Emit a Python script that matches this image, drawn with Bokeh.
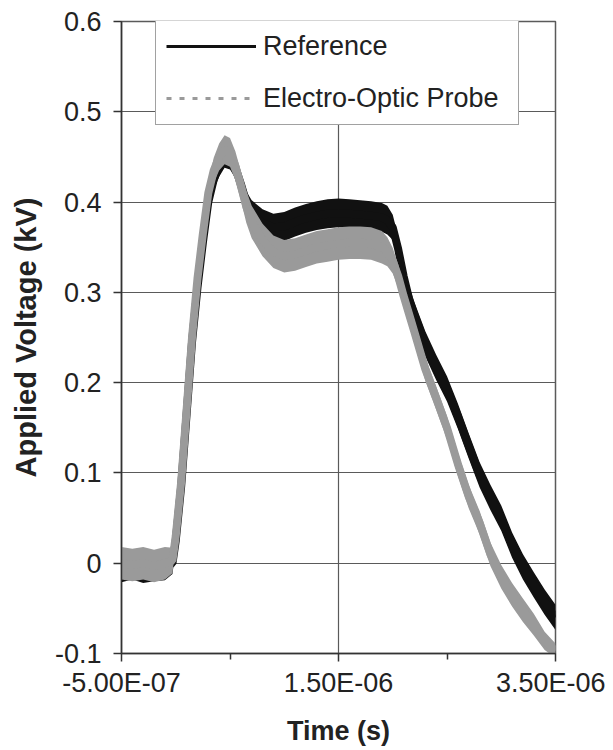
from bokeh.plotting import figure
from bokeh.models import Range1d, FixedTicker, Legend, LegendItem
from bokeh.embed import file_html
from bokeh.resources import INLINE

# ---- data ----
time_s = [-5.0e-7, -4.0e-7, -3.0e-7, -2.0e-7, -1.0e-7, -3.0e-8, 0.0, 5.0e-8, 1.0e-7, 1.5e-7,
          2.0e-7, 2.5e-7, 3.0e-7, 3.5e-7, 4.0e-7, 4.5e-7, 5.0e-7, 5.5e-7, 6.0e-7, 6.5e-7,
          7.0e-7, 8.0e-7, 9.0e-7, 1.0e-6, 1.1e-6, 1.2e-6, 1.3e-6, 1.4e-6, 1.5e-6, 1.6e-6,
          1.7e-6, 1.8e-6, 1.9e-6, 1.95e-6, 2.0e-6, 2.05e-6, 2.1e-6, 2.15e-6, 2.2e-6, 2.3e-6,
          2.4e-6, 2.5e-6, 2.6e-6, 2.7e-6, 2.8e-6, 2.9e-6, 3.0e-6, 3.1e-6, 3.2e-6, 3.3e-6,
          3.4e-6, 3.5e-6]

reference_kv = [-0.005, -0.002, -0.006, -0.004, -0.003, 0.000, 0.025, 0.085, 0.165, 0.245,
                0.305, 0.355, 0.400, 0.425, 0.440, 0.450, 0.448, 0.438, 0.420, 0.400,
                0.388, 0.377, 0.372, 0.373, 0.378, 0.382, 0.385, 0.387, 0.388, 0.387,
                0.386, 0.385, 0.383, 0.380, 0.372, 0.348, 0.318, 0.293, 0.275, 0.243,
                0.217, 0.193, 0.163, 0.130, 0.098, 0.073, 0.050, 0.020, -0.004, -0.024,
                -0.043, -0.060]

probe_kv = [0.000, -0.002, 0.000, -0.003, 0.000, 0.003, 0.030, 0.090, 0.170, 0.250,
            0.315, 0.365, 0.410, 0.435, 0.450, 0.458, 0.455, 0.440, 0.418, 0.395,
            0.378, 0.358, 0.345, 0.340, 0.342, 0.346, 0.350, 0.352, 0.354, 0.355,
            0.355, 0.354, 0.350, 0.345, 0.335, 0.318, 0.296, 0.276, 0.256, 0.215,
            0.183, 0.150, 0.110, 0.074, 0.045, 0.010, -0.015, -0.035, -0.052, -0.068,
            -0.086, -0.097]

# half-width of the noise band around each trace (kV)
reference_noise = [0.016, 0.016, 0.016, 0.016, 0.016, 0.012, 0.008, 0.008, 0.008, 0.008,
                   0.008, 0.010, 0.010, 0.012, 0.012, 0.012, 0.012, 0.012, 0.012, 0.012,
                   0.014, 0.015, 0.015, 0.016, 0.016, 0.016, 0.016, 0.016, 0.016, 0.016,
                   0.016, 0.016, 0.016, 0.016, 0.014, 0.014, 0.014, 0.014, 0.014, 0.014,
                   0.014, 0.014, 0.014, 0.014, 0.014, 0.014, 0.014, 0.014, 0.014, 0.014,
                   0.014, 0.014]

probe_noise = [0.018, 0.018, 0.018, 0.018, 0.018, 0.014, 0.008, 0.008, 0.008, 0.008,
               0.008, 0.010, 0.012, 0.014, 0.015, 0.016, 0.016, 0.016, 0.016, 0.018,
               0.018, 0.018, 0.018, 0.018, 0.018, 0.018, 0.018, 0.018, 0.018, 0.018,
               0.018, 0.018, 0.018, 0.016, 0.014, 0.013, 0.013, 0.013, 0.013, 0.013,
               0.013, 0.013, 0.013, 0.013, 0.013, 0.013, 0.013, 0.013, 0.013, 0.012,
               0.010, 0.008]

x_tick_values = [-5.0e-7, 1.5e-6, 3.5e-6]
x_tick_labels = ["-5.00E-07", "1.50E-06", "3.50E-06"]
x_minor_ticks = [5.0e-7, 2.5e-6]
y_tick_values = [-0.1, 0.0, 0.1, 0.2, 0.3, 0.4, 0.5, 0.6]
y_tick_labels = ["-0.1", "0", "0.1", "0.2", "0.3", "0.4", "0.5", "0.6"]

series_names = ["Reference", "Electro-Optic Probe"]
x_title = "Time (s)"
y_title = "Applied Voltage (kV)"

# ---- style ----
FONT = "Liberation Sans"
BLACK = "#111111"
GRAY = "#9a9a9a"
GRID = "#5a5a5a"

p = figure(frame_width=434, frame_height=632,
           min_border_left=121, min_border_right=50,
           min_border_top=21, min_border_bottom=92,
           x_range=Range1d(-5.0e-7, 3.5e-6), y_range=Range1d(-0.1, 0.6),
           output_backend="svg", toolbar_location=None,
           background_fill_color="white", border_fill_color="white")

p.outline_line_color = GRID
p.outline_line_width = 1.5

# axes
p.xaxis.ticker = FixedTicker(ticks=x_tick_values, minor_ticks=x_minor_ticks)
p.xaxis.major_label_overrides = dict(zip(x_tick_values, x_tick_labels))
p.yaxis.ticker = FixedTicker(ticks=y_tick_values)
p.yaxis.major_label_overrides = dict(zip(y_tick_values, y_tick_labels))

for ax in (p.xaxis[0], p.yaxis[0]):
    ax.axis_line_color = "#333333"
    ax.axis_line_width = 1.5
    ax.major_tick_line_color = "#333333"
    ax.major_tick_line_width = 1.5
    ax.major_tick_in = 0
    ax.major_tick_out = 8
    ax.minor_tick_line_color = "#333333"
    ax.minor_tick_line_width = 1.5
    ax.minor_tick_in = 0
    ax.minor_tick_out = 6
    ax.major_label_text_font = FONT
    ax.major_label_text_font_size = "27px"
    ax.major_label_text_color = "#222222"
    ax.axis_label_text_font = FONT
    ax.axis_label_text_font_style = "bold"
    ax.axis_label_text_font_size = "27px"
    ax.axis_label_text_color = "#222222"

p.xaxis.major_label_standoff = 6
p.xaxis.axis_label = x_title
p.xaxis.axis_label_standoff = 15
p.yaxis.major_label_standoff = 12
p.yaxis.minor_tick_out = 0
p.yaxis.axis_label = y_title
p.yaxis.axis_label_standoff = 10
p.yaxis.axis_label_text_font_size = "29px"

# grid
p.xgrid.grid_line_color = GRID
p.xgrid.grid_line_width = 1.2
p.ygrid.grid_line_color = GRID
p.ygrid.grid_line_width = 1.2

# ---- traces ----
ref_lo = [v - n for v, n in zip(reference_kv, reference_noise)]
ref_hi = [v + n for v, n in zip(reference_kv, reference_noise)]
pro_lo = [v - n for v, n in zip(probe_kv, probe_noise)]
pro_hi = [v + n for v, n in zip(probe_kv, probe_noise)]

# thin series lines (used as legend glyphs, covered by the noisy bands)
ref_thin = p.line(x=time_s, y=reference_kv, line_color=BLACK, line_width=3)
pro_thin = p.line(x=time_s, y=probe_kv, line_color=GRAY, line_width=3, line_dash="5 8")

p.varea(x=time_s, y1=ref_lo, y2=ref_hi, fill_color=BLACK)
p.line(x=time_s, y=reference_kv, line_color=BLACK, line_width=8)
p.varea(x=time_s, y1=pro_lo, y2=pro_hi, fill_color=GRAY)
p.line(x=time_s, y=probe_kv, line_color=GRAY, line_width=8)

legend = Legend(items=[LegendItem(label=series_names[0], renderers=[ref_thin]),
                       LegendItem(label=series_names[1], renderers=[pro_thin])],
                location=(34, 528), orientation="vertical",
                label_text_font=FONT, label_text_font_size="27px",
                label_text_color="#222222",
                glyph_width=90, glyph_height=32, label_height=32, label_width=245,
                label_standoff=7, padding=10, spacing=20, margin=0,
                border_line_color="#444444", border_line_width=1.5,
                background_fill_color="white", background_fill_alpha=1.0)
p.add_layout(legend)

open("out.html", "w").write(file_html(p, INLINE))
